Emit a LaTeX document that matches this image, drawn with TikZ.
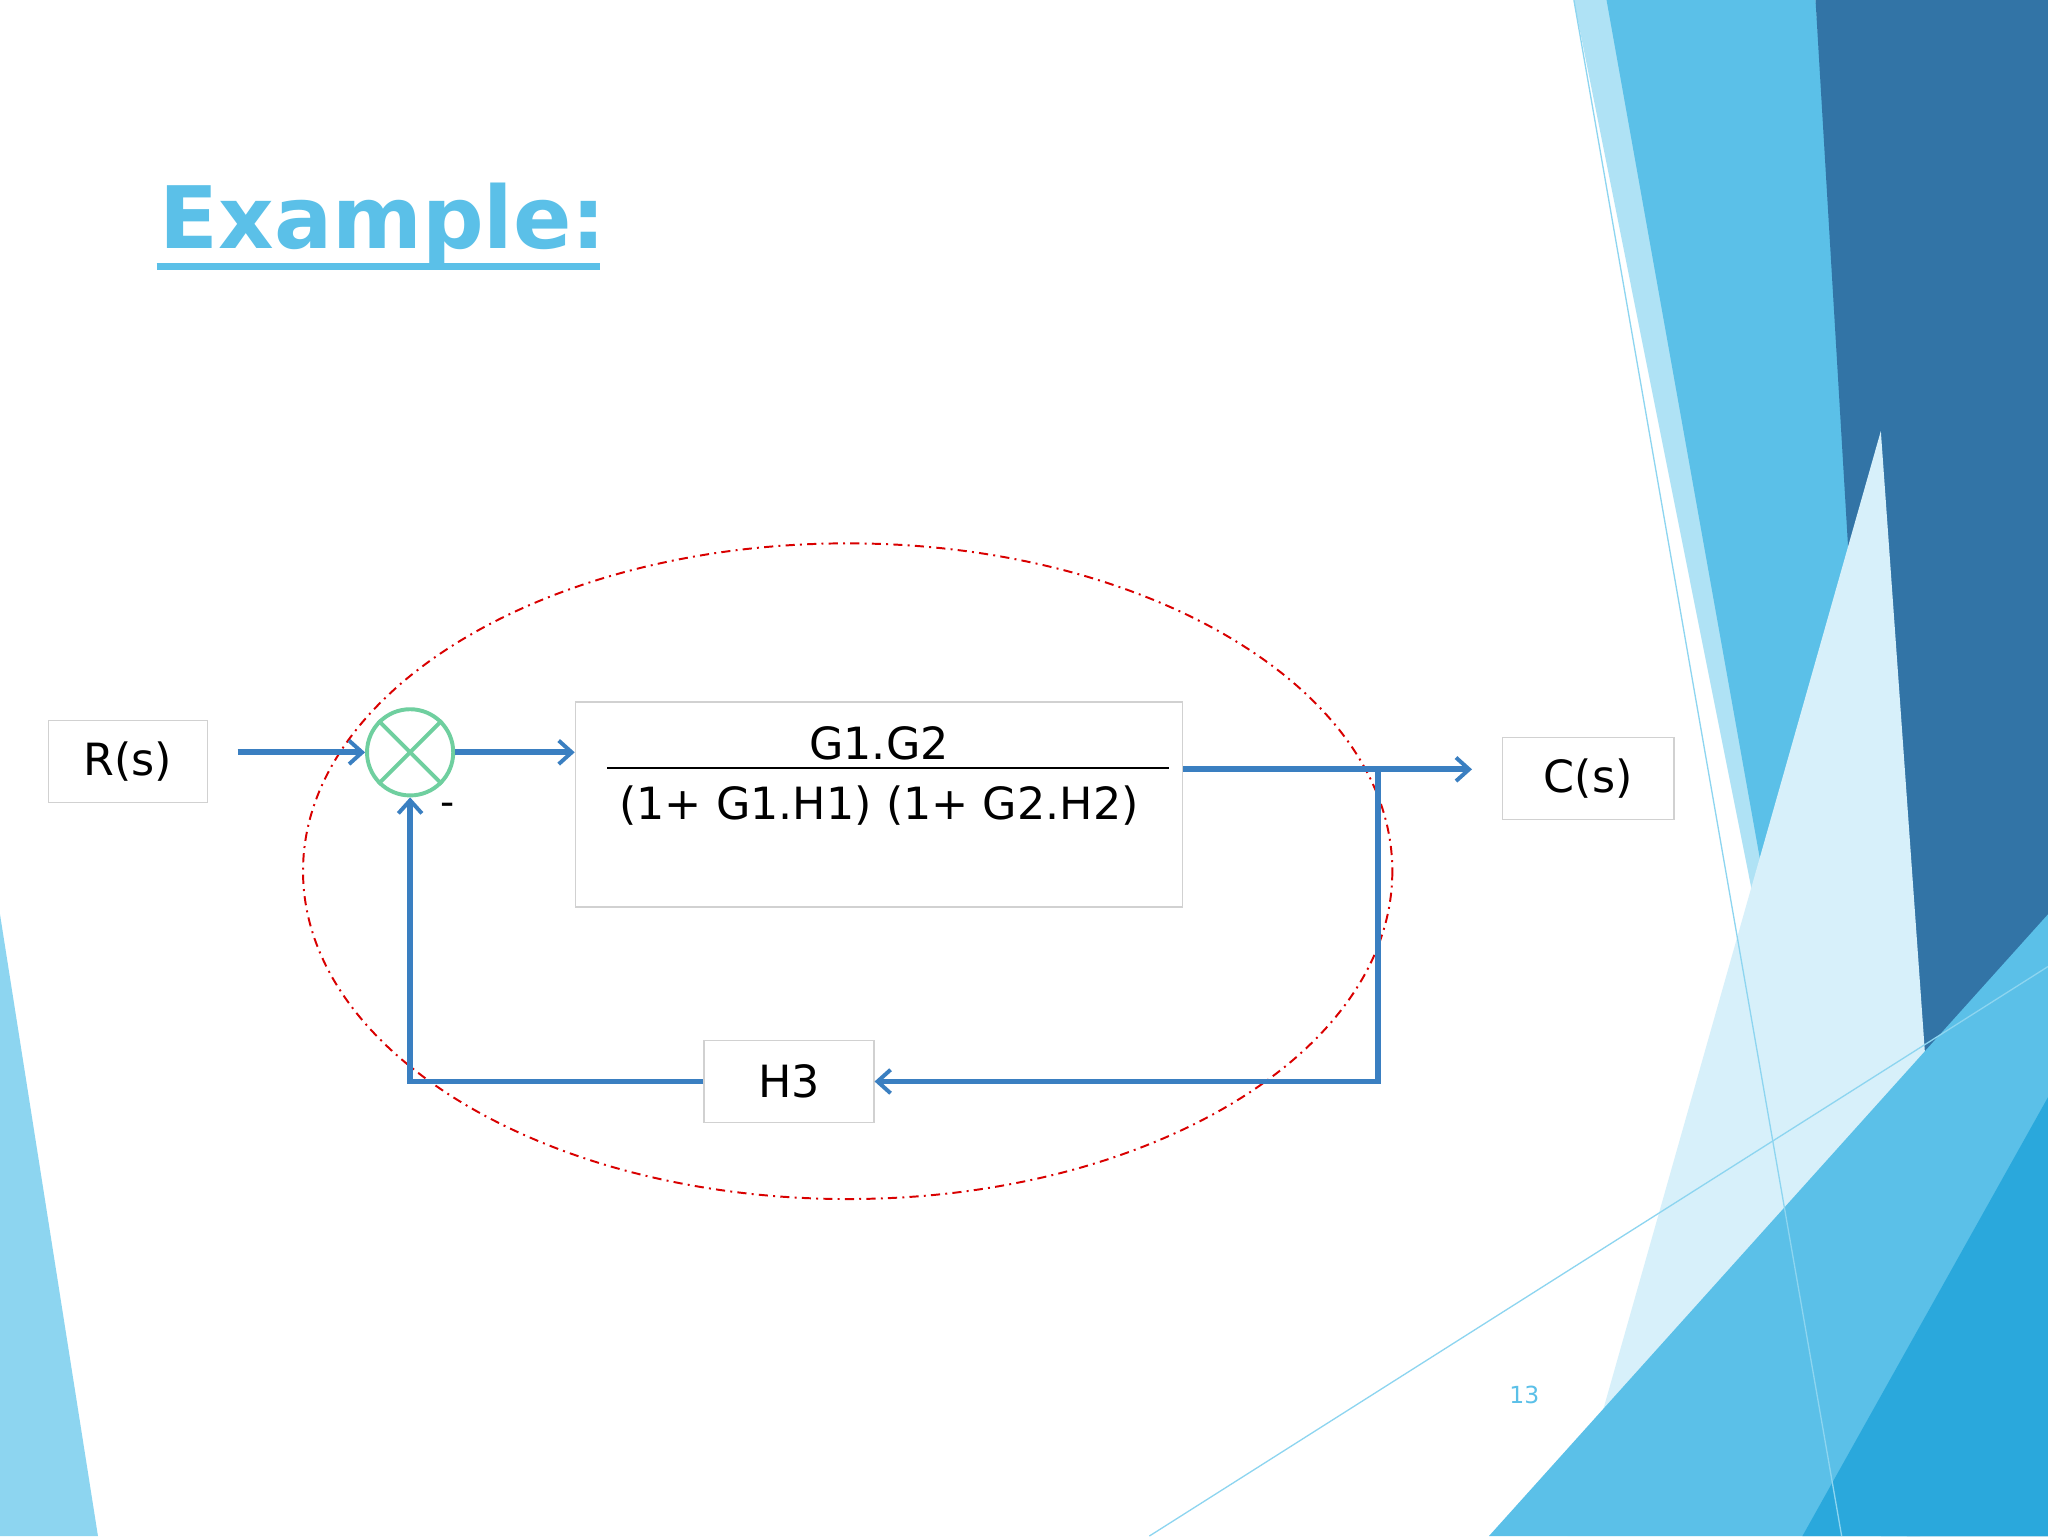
\documentclass[tikz,border=0pt]{standalone}
\usepackage{fontspec}
\setmainfont{DejaVu Sans}
\usetikzlibrary{arrows.meta}
\definecolor{wire}{HTML}{3A7FC1}
\definecolor{lb}{HTML}{8DD5F0}
\definecolor{mb}{HTML}{5BC0E8}
\definecolor{db}{HTML}{3274A6}
\definecolor{bb}{HTML}{2AA8DC}
\definecolor{grn}{HTML}{6FCF9F}
\tikzset{
  box/.style={draw=black!18,line width=1.2pt,minimum width=#1,minimum height=63pt,font=\fontsize{34}{40}\selectfont,inner sep=0},
  wire/.style={draw=wire,line width=4.5pt},
  arr/.style={wire,-{Straight Barb[length=10pt,width=18pt,line width=3pt]}},
}
\begin{document}
\begin{tikzpicture}[x=1pt,y=-1pt]
\useasboundingbox (0,0) rectangle (1568,1176);
\fill[white] (0,0) rectangle (1568,1176);
% background shapes
\fill[lb!70] (1205,0) -- (1390,0) -- (1568,1176) -- (1440,1176) -- cycle;
\fill[mb] (1230,0) -- (1390,0) -- (1470,1176) -- (1440,1176) -- cycle;
\fill[db] (1390,0) -- (1568,0) -- (1568,1176) -- (1460,1176) -- cycle;
\fill[lb!35] (1200,1176) -- (1440,330) -- (1500,1176) -- cycle;
\fill[mb] (1140,1176) -- (1568,700) -- (1568,1176) -- cycle;
\fill[bb] (1380,1176) -- (1568,840) -- (1568,1176) -- cycle;
\draw[lb,line width=1pt] (1205,0) -- (1410,1176);
\draw[lb,line width=1pt] (880,1176) -- (1568,740);
\fill[lb] (0,700) -- (0,1176) -- (75,1176) -- cycle;
% title
\node[anchor=base west,text=mb,font=\bfseries\fontsize{66}{70}\selectfont,inner sep=0] (title) at (122,190) {Example:};
\draw[mb,line width=5pt] (120,204) -- (459,204);
% ellipse
\draw[red!85!black,line width=1.5pt,dash pattern=on 7pt off 4pt on 1.5pt off 4pt] (649,667) ellipse [x radius=417,y radius=251];
% nodes
\node[box=122pt] (R) at (98,583) {R(s)};
\node[box=131pt] (C) at (1216,596) {C(s)};
\node[box=130pt] (H) at (604,828) {H3};
\node[draw=black!18,line width=1.2pt,minimum width=465pt,minimum height=157pt] (G) at (673,616) {};
\node[font=\fontsize{34}{40}\selectfont] (num) at (673,569) {G1.G2};
\node[font=\fontsize{34}{40}\selectfont] (den) at (673,617) {(1+ G1.H1) (1+ G2.H2)};
\draw[line width=1.5pt] (465,588) -- (895,588);
\node[circle,draw=grn,line width=3pt,minimum size=66pt,inner sep=0] (S) at (314,576) {};
\draw[grn,line width=3pt] (S.north east) -- (S.south west) (S.north west) -- (S.south east);
\node[font=\fontsize{30}{30}\selectfont] (minus) at (343,620) {-};
\node[text=mb,font=\fontsize{18}{20}\selectfont] (pg) at (1167,1068) {13};
% wires
\coordinate (rin) at (182,576);
\coordinate (sout) at (S.east);
\coordinate (gin) at (440,576);
\coordinate (gout) at (906,589);
\coordinate (cin) at (1127,589);
\coordinate (br) at (1055,589);
\coordinate (br2) at (1055,828);
\coordinate (fl) at (314,828);
\draw[arr] (rin) -- (S.west);
\draw[arr] (sout) -- (gin);
\draw[arr] (gout) -- (cin);
\draw[arr] (br) -- (br2) -- (H.east);
\draw[arr] (H.west) -- (fl) -- (S.south);
\end{tikzpicture}
\end{document}
